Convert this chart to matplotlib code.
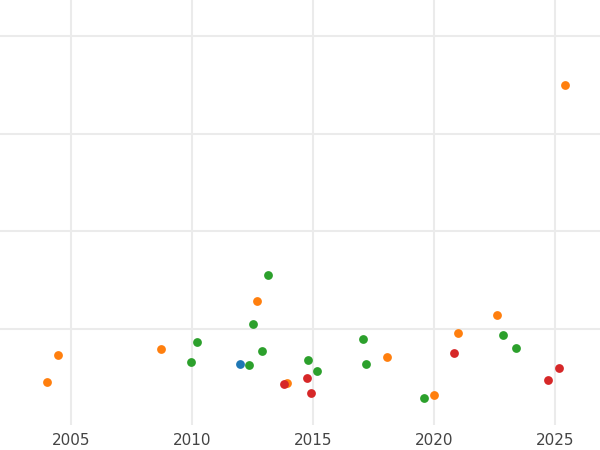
import matplotlib.pyplot as plt

orange_x = [2004.01, 2004.47, 2008.72, 2012.69, 2013.93, 2018.06, 2020.00, 2021.00, 2022.61, 2025.42]
orange_y = [0.456, 0.733, 0.795, 1.287, 0.446, 0.713, 0.323, 0.959, 1.144, 3.503]
green_x = [2009.96, 2010.21, 2012.36, 2012.52, 2012.90, 2013.14, 2014.80, 2015.17, 2017.07, 2017.19, 2019.59, 2022.86, 2023.39]
green_y = [0.662, 0.867, 0.631, 1.051, 0.774, 1.554, 0.682, 0.569, 0.897, 0.641, 0.292, 0.938, 0.805]
blue_x = [2011.99]
blue_y = [0.641]
red_x = [2013.81, 2014.76, 2014.92, 2020.83, 2024.71, 2025.17]
red_y = [0.436, 0.497, 0.344, 0.754, 0.477, 0.600]
xticks = [2005, 2010, 2015, 2020, 2025]

fig = plt.figure(figsize=(6, 4.5), dpi=100)
ax = fig.add_axes([0, 0.056, 1, 0.944])
for xs, ys, c in [(orange_x, orange_y, "#ff7f0e"), (green_x, green_y, "#2ca02c"),
                  (blue_x, blue_y, "#1f77b4"), (red_x, red_y, "#d62728")]:
    ax.scatter(xs, ys, s=40, color=c, zorder=3, linewidths=0)
ax.set_xlim(2002.07, 2026.86)
ax.set_ylim(0.015, 4.374)
ax.set_xticks(xticks)
ax.set_yticks([1, 2, 3, 4])
ax.set_yticklabels([])
ax.grid(True, color="#ebebeb", linewidth=1.5)
ax.tick_params(length=0, labelsize=11, labelcolor="#444444", pad=6)
ax.tick_params(axis="y", left=False, labelleft=False)
for s in ax.spines.values():
    s.set_visible(False)
fig.savefig("out.png")
